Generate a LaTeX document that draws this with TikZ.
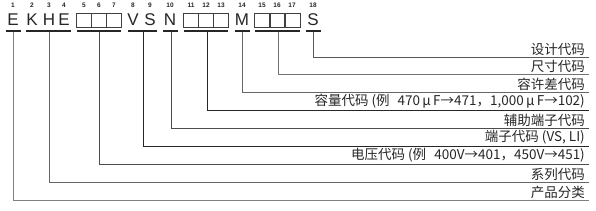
\documentclass[tikz,border=0pt]{standalone}
\usepackage{fontspec}
\setmainfont{Liberation Sans}
\newfontfamily\cjk{Noto Sans CJK SC}
\begin{document}
\begin{tikzpicture}[x=1pt,y=-1pt,
  letter/.style={font=\fontsize{17}{17}\selectfont, inner sep=0pt, text=black!85},
  num/.style={font=\fontsize{6.5}{6.5}\selectfont\bfseries, inner sep=0pt, text=black!85},
  bar/.style={line width=2pt, black!85},
  cell/.style={draw=black!75, line width=1pt, minimum width=14.7pt, minimum height=14pt, inner sep=0pt},
  lbl/.style={font=\cjk\fontsize{13.5}{14}\selectfont, anchor=south east, inner xsep=4pt, inner ysep=1.5pt, text=black!85},
  conn/.style={line width=1pt}]
\useasboundingbox (0,0) rectangle (596,210);

% numbers
\foreach \n/\x in {1/13,2/32,3/49,4/64,5/84,6/99,7/114,8/133,9/150,10/170,11/191,12/206,13/221,14/242,15/262,16/277,17/292,18/313}
  \node[num] (n\n) at (\x,5) {\n};

% letters
\node[letter] (L1) at (13,20) {E};
\node[letter] (L2) at (32,20) {K};
\node[letter] (L3) at (49,20) {H};
\node[letter] (L4) at (64,20) {E};
\node[letter] (L8) at (133,20) {V};
\node[letter] (L9) at (150,20) {S};
\node[letter] (L10) at (170,20) {N};
\node[letter] (L14) at (242,20) {M};
\node[letter] (L18) at (313,20) {S};

% boxes
\foreach \n/\x in {5/84.3,6/99,7/113.7,11/191.3,12/206,13/220.7,15/262.3,16/277.5,17/292.7}
  \node[cell] (c\n) at (\x,20) {};

% bars
\draw[bar] (6,31) -- (21,31);
\draw[bar] (26,31) -- (71,31);
\draw[bar] (77,31) -- (121,31);
\draw[bar] (128,31) -- (157,31);
\draw[bar] (163,31) -- (178,31);
\draw[bar] (184,31) -- (228,31);
\draw[bar] (235,31) -- (250,31);
\draw[bar] (255,31) -- (300,31);
\draw[bar] (306,31) -- (321,31);

\coordinate (b1) at (13,32);
\coordinate (b2) at (49,32);
\coordinate (b3) at (99,32);
\coordinate (b4) at (143,32);
\coordinate (b5) at (171,32);
\coordinate (b6) at (207,32);
\coordinate (b7) at (242,32);
\coordinate (b8) at (278,32);
\coordinate (b9) at (313,32);

% labels
\node[lbl] (t9) at (589,57) {设计代码};
\node[lbl] (t8) at (589,74.4) {尺寸代码};
\node[lbl] (t7) at (589,92.2) {容许差代码};
\node[lbl] (t6) at (589,110.2) {容量代码 (例\hspace{0.6em}470\,μ\,F→471，1,000\,μ\,F→102)};
\node[lbl] (t5) at (589,128.2) {辅助端子代码};
\node[lbl] (t4) at (589,146.2) {端子代码 (VS, LI)};
\node[lbl] (t3) at (589,164.2) {电压代码 (例\hspace{0.6em}400V→401，450V→451)};
\node[lbl] (t2) at (589,182) {系列代码};
\node[lbl] (t1) at (589,200) {产品分类};

% connectors
\draw[conn, black!50] (b1) |- (t1.south east);
\draw[conn, black!60] (b2) |- (t2.south east);
\draw[conn, black!70] (b3) |- (t3.south east);
\draw[conn, black!85] (b4) |- (t4.south east);
\draw[conn, black!70] (b5) |- (t5.south east);
\draw[conn, black!85] (b6) |- (t6.south east);
\draw[conn, black!60] (b7) |- (t7.south east);
\draw[conn, black!55] (b8) |- (t8.south east);
\draw[conn, black!65] (b9) |- (t9.south east);
\end{tikzpicture}
\end{document}
